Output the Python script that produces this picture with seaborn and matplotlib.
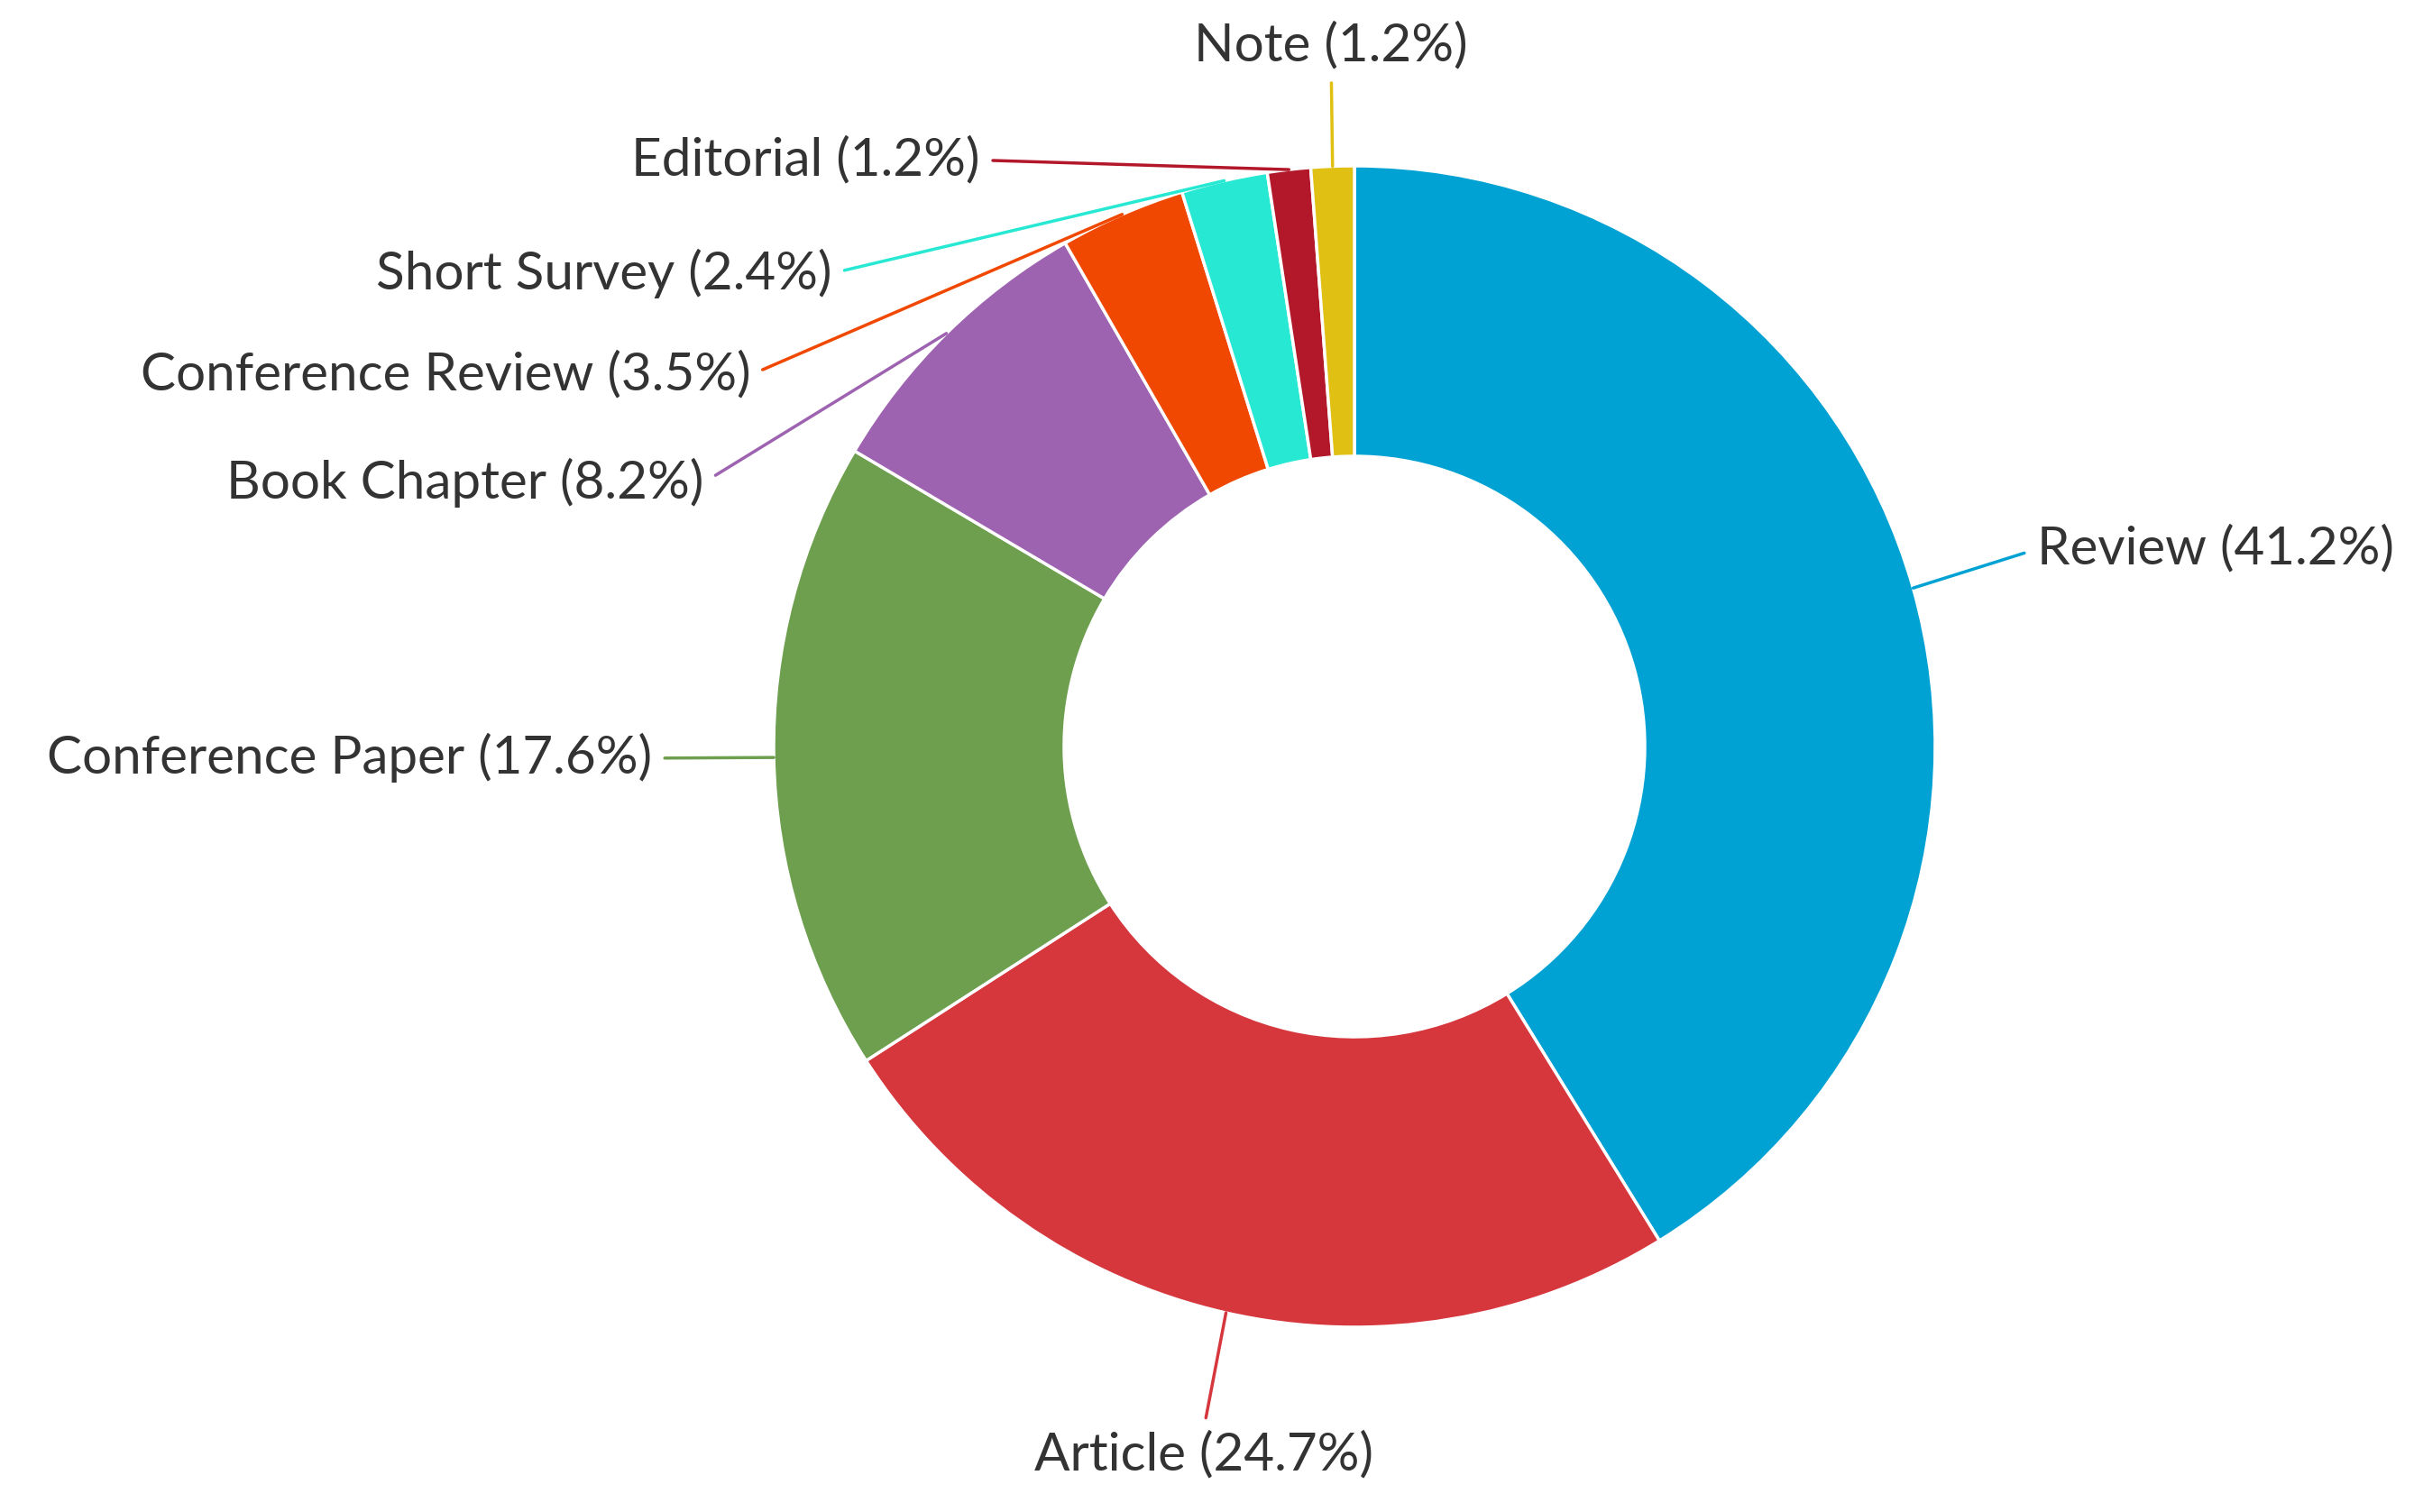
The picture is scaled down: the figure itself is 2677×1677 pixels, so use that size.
import numpy as np
import seaborn as sns
import matplotlib.pyplot as plt

# document types and their share (%)
categories = ['Review', 'Article', 'Conference Paper', 'Book Chapter',
              'Conference Review', 'Short Survey', 'Editorial', 'Note']
shares = [41.2, 24.7, 17.6, 8.2, 3.5, 2.4, 1.2, 1.2]
colors = ['#00a1d3', '#d5373d', '#6d9f4e', '#9e63b0',
          '#f04800', '#27e8d2', '#b2172a', '#dfc013']

# label anchor (x, y) in pie units, alignment, and where the leader leaves the text
label_pos = {
    'Review': (1.175, 0.34, 'left', (0, 0.5)),
    'Article': (-0.26, -1.22, 'center', (0.5, 1)),
    'Conference Paper': (-1.21, -0.02, 'right', (1, 0.5)),
    'Book Chapter': (-1.12, 0.455, 'right', (1, 0.5)),
    'Conference Review': (-1.04, 0.64, 'right', (1, 0.5)),
    'Short Survey': (-0.90, 0.815, 'right', (1, 0.5)),
    'Editorial': (-0.645, 1.01, 'right', (1, 0.5)),
    'Note': (-0.04, 1.207, 'center', (0.5, 0)),
}

sns.set_style("white")
plt.rcParams['font.family'] = ['Lato', 'DejaVu Sans']

fig = plt.figure(figsize=(26.77, 16.77), dpi=100)
ax = fig.add_axes([0, 0, 1, 1])

wedges, _ = ax.pie(shares, colors=colors, startangle=90, counterclock=False,
                   radius=1.0, wedgeprops=dict(width=0.5, edgecolor='white', linewidth=2.5))

for w, name, pct, col in zip(wedges, categories, shares, colors):
    ang = np.deg2rad((w.theta1 + w.theta2) / 2)
    xy = (np.cos(ang), np.sin(ang))
    tx, ty, ha, rp = label_pos[name]
    ax.annotate(f"{name} ({pct}%)", xy=xy, xytext=(tx, ty), ha=ha, va='center',
                fontsize=42, color='#333333',
                arrowprops=dict(arrowstyle='-', color=col, lw=2.5, relpos=rp,
                                shrinkA=8, shrinkB=0))

# center the donut where it sits in the original picture
px = 644.0
ax.set_xlim(-1502 / px, (2677 - 1502) / px)
ax.set_ylim(-849 / px, (1677 - 849) / px)
ax.set_aspect('auto')
ax.axis('off')

fig.savefig('out.png', dpi=100, facecolor='white')
